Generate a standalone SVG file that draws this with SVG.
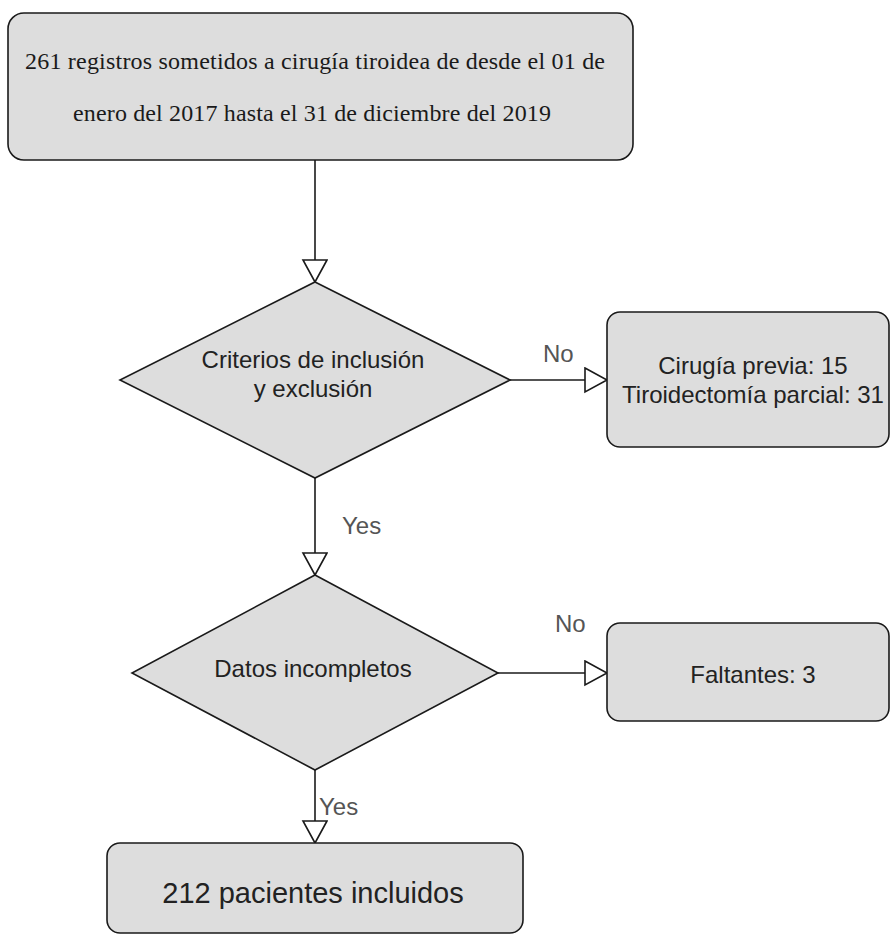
<svg xmlns="http://www.w3.org/2000/svg" width="890" height="936" viewBox="0 0 890 936">
<style>
.box{fill:#dddddd;stroke:#1a1a1a;stroke-width:1.6}
.edge{fill:none;stroke:#1a1a1a;stroke-width:1.6;marker-end:url(#arr)}
.t{font-family:"Liberation Sans",Arial,sans-serif;font-size:24px;fill:#222;text-anchor:middle}
.s{font-family:"Liberation Serif","Times New Roman",serif;font-size:24px;fill:#1a1a1a;text-anchor:middle}
.lbl{font-family:"Liberation Sans",Arial,sans-serif;font-size:24px;fill:#555;text-anchor:start}
</style>
<defs>
<marker id="arr" markerUnits="userSpaceOnUse" markerWidth="26" markerHeight="28" refX="23" refY="13" orient="auto">
<path d="M1,1 L23,13 L1,25 Z" fill="#ffffff" stroke="#1a1a1a" stroke-width="1.6"/>
</marker>
</defs>
<rect width="890" height="936" fill="#ffffff"/>
<g id="edges">
<path class="edge" d="M315,160 L315,282"/>
<path class="edge" d="M510,380 L607,380"/>
<path class="edge" d="M315,478 L315,575"/>
<path class="edge" d="M498,673 L607,673"/>
<path class="edge" d="M315,770 L315,843"/>
<text class="lbl" x="543" y="362">No</text>
<text class="lbl" x="342" y="534">Yes</text>
<text class="lbl" x="555" y="632">No</text>
<text class="lbl" x="319" y="815">Yes</text>
</g>
<g id="start">
<rect class="box" x="8" y="13" width="625" height="147" rx="16" ry="16"/>
<text class="s" x="315" y="69" textLength="580" lengthAdjust="spacing">261 registros sometidos a cirugía tiroidea de desde el 01 de</text>
<text class="s" x="312" y="121" textLength="478" lengthAdjust="spacing">enero del 2017 hasta el 31 de diciembre del 2019</text>
</g>
<g id="criterios">
<polygon class="box" points="315,282 510,380 315,478 120,380"/>
<text class="t" x="313" y="368">Criterios de inclusión</text>
<text class="t" x="313" y="397">y exclusión</text>
</g>
<g id="excluidos">
<rect class="box" x="607" y="312" width="282" height="135" rx="13" ry="13"/>
<text class="t" x="753" y="374">Cirugía previa: 15</text>
<text class="t" x="753" y="403">Tiroidectomía parcial: 31</text>
</g>
<g id="datos">
<polygon class="box" points="315,575 498,673 315,770 132,673"/>
<text class="t" x="313" y="677">Datos incompletos</text>
</g>
<g id="faltantes">
<rect class="box" x="607" y="623" width="282" height="98" rx="13" ry="13"/>
<text class="t" x="753" y="683">Faltantes: 3</text>
</g>
<g id="incluidos">
<rect class="box" x="107" y="843" width="416" height="90" rx="13" ry="13"/>
<text class="t" x="313" y="903" style="font-size:29px">212 pacientes incluidos</text>
</g>
</svg>
